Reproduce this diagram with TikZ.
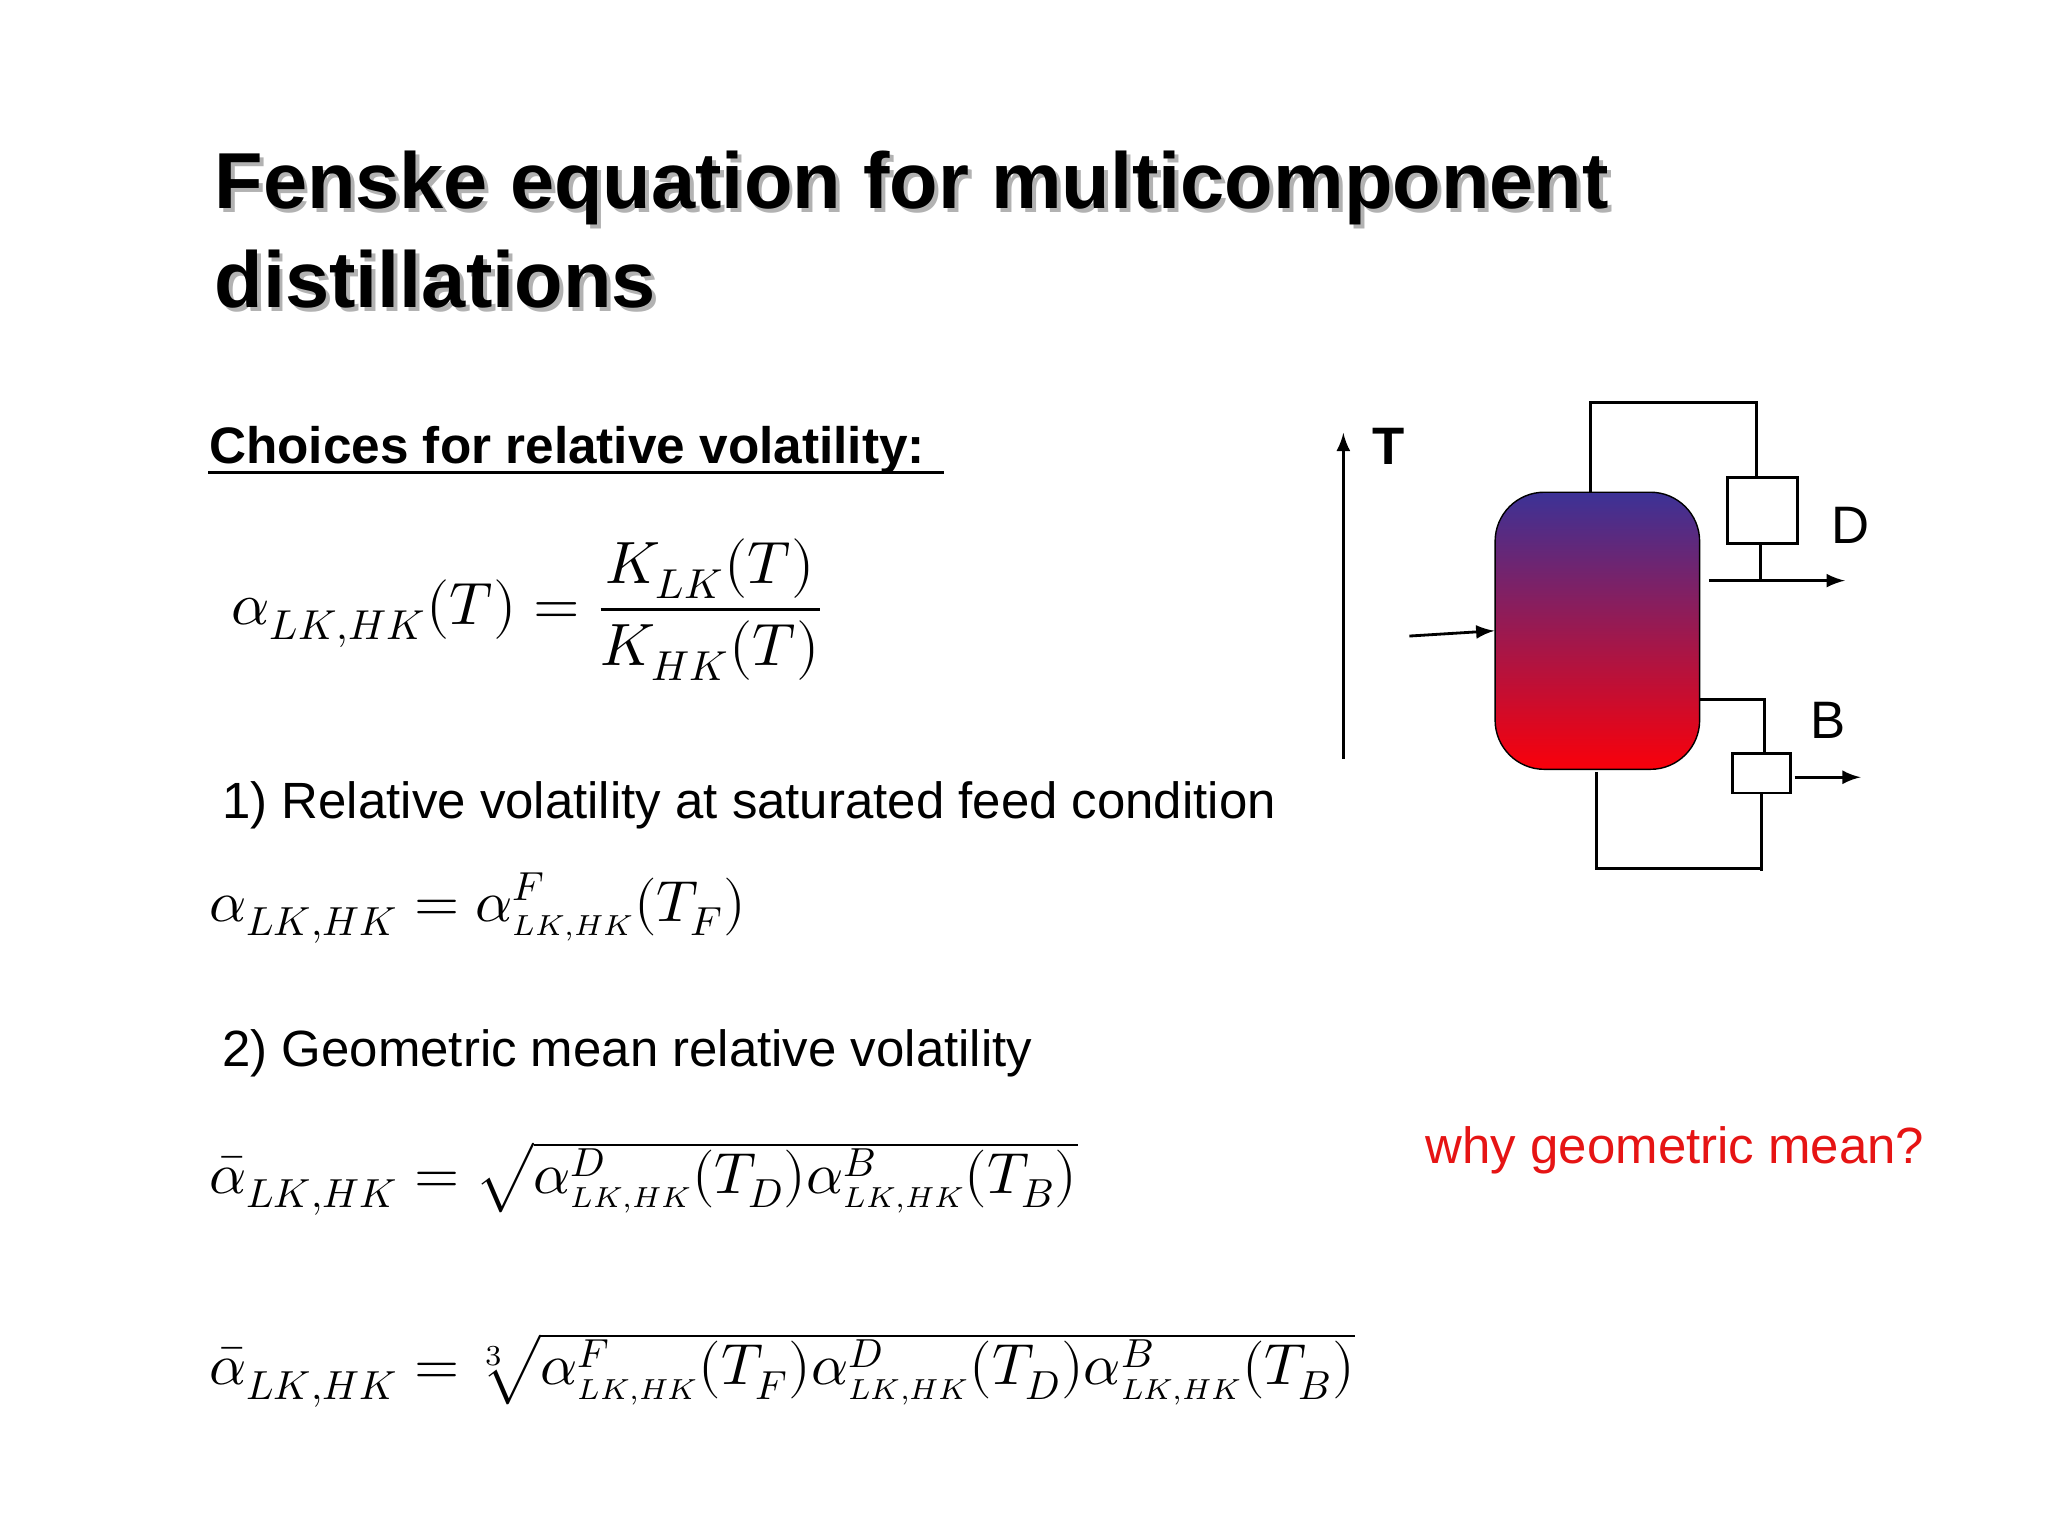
\documentclass[tikz,border=0pt]{standalone}
\usepackage{fontspec}
\setmainfont{Liberation Sans}
\usepackage{amsmath}
\usepackage{unicode-math}
\setmathfont{Latin Modern Math}
\newcommand{\lkhk}[1]{_{\scriptscriptstyle #1}}
\begin{document}
\begin{tikzpicture}[x=0.0132cm,y=-0.0132cm,
  ln/.style={line width=0.8pt},
  eq/.style={anchor=west,inner sep=0pt,font=\fontsize{16.5}{20}\selectfont},
  txt/.style={anchor=west,inner sep=0pt,font=\fontsize{14.5}{17}\selectfont},
  >=latex]
\useasboundingbox (0,0) rectangle (1552,1164);
\fill[white] (0,0) rectangle (1552,1164);
\node[anchor=west,inner sep=0pt,align=left,text=gray!60,font=\fontsize{22.6}{28}\bfseries\selectfont] at (165,177) {Fenske equation for multicomponent\\distillations};
\node (title)[anchor=west,inner sep=0pt,align=left,font=\fontsize{22.6}{28}\bfseries\selectfont] at (162,174) {Fenske equation for multicomponent\\distillations};
\node (ch)[txt,font=\fontsize{14.6}{17}\bfseries\selectfont] at (158,341) {Choices for relative volatility: };
\draw[ln] (158,358) -- (715,358);
\node (e1)[eq,font=\fontsize{17}{20}\selectfont] at (175,462) {$\alpha_{LK,HK}(T)=\dfrac{K_{LK}(T)}{K_{HK}(T)}$};
\node (t1)[txt] at (168,610) {1) Relative volatility at saturated feed condition};
\node (e2)[eq] at (158,688) {$\alpha_{LK,HK}=\alpha^{F}\lkhk{LK,HK}(T_F)$};
\node (t2)[txt] at (168,798) {2) Geometric mean relative volatility};
\node (e3)[eq] at (158,893) {$\bar\alpha_{LK,HK}=\sqrt{\alpha^{D}\lkhk{LK,HK}(T_D)\alpha^{B}\lkhk{LK,HK}(T_B)}$};
\node (e4)[eq] at (158,1038) {$\bar\alpha_{LK,HK}=\sqrt[3]{\alpha^{F}\lkhk{LK,HK}(T_F)\alpha^{D}\lkhk{LK,HK}(T_D)\alpha^{B}\lkhk{LK,HK}(T_B)}$};
\node (why)[txt,text={rgb,255:red,230;green,20;blue,20}] at (1080,872) {why geometric mean?};
% column
\definecolor{ctop}{RGB}{60,50,150}\definecolor{cbot}{RGB}{250,0,10}
\node (col)[draw,rounded corners=14pt,top color=ctop,bottom color=cbot,minimum width=155*0.0132cm,minimum height=210*0.0132cm,inner sep=0pt] at (1210.5,478) {};
\coordinate (c1) at (1205,373);
\draw[ln] (c1) -- (1205,305) -- (1331,305) -- (1331,362);
\node (db)[draw,ln,minimum width=53*0.0132cm,minimum height=50*0.0132cm,inner sep=0pt] at (1335.5,387) {};
\coordinate (dj) at (1334,440);
\draw[ln] (1334,412) -- (dj);
\coordinate (ds) at (1295,440); \coordinate (de) at (1398,440);
\draw[ln,->] (ds) -- (de);
\node (D)[font=\fontsize{15}{18}\selectfont] at (1402,398) {D};
\draw[ln] (1288,530) -- (1337,530) -- (1337,571);
\node (bb)[draw,ln,minimum width=44*0.0132cm,minimum height=30*0.0132cm,inner sep=0pt] at (1335,586) {};
\coordinate (bs) at (1360,589); \coordinate (be) at (1410,589);
\draw[ln,->] (bs) -- (be);
\draw[ln] (1335,601) -- (1335,660);
\draw[ln] (1210,585) -- (1210,658) -- (1335,658);
\node (B)[font=\fontsize{15}{18}\selectfont] at (1385,546) {B};
\coordinate (f0) at (1068,482);
\draw[ln,->] (f0) -- (col.west);
\coordinate (ta) at (1018,575); \coordinate (tb) at (1018,328);
\draw[ln,->] (ta) -- (tb);
\node (T)[font=\fontsize{15}{18}\bfseries\selectfont] at (1052,338) {T};
\end{tikzpicture}
\end{document}
